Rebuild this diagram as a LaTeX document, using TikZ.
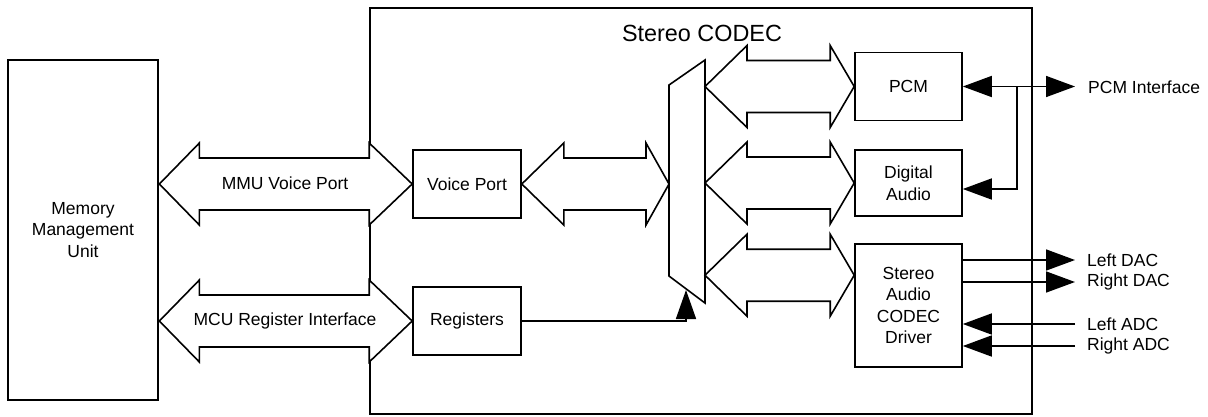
\documentclass[tikz,border=0pt]{standalone}
\usepackage{fontspec}
\setmainfont{Liberation Sans}
\usetikzlibrary{arrows.meta,calc}
\newcommand{\dblarrow}[4]{%
  \draw[barrow] (#1) -- ($(#1)+(#3,-41)$) -- ($(#1)+(#3,-26)$) -- ($(#2)+(-#4,-26)$) -- ($(#2)+(-#4,-41)$) -- (#2)
   -- ($(#2)+(-#4,41)$) -- ($(#2)+(-#4,26)$) -- ($(#1)+(#3,26)$) -- ($(#1)+(#3,41)$) -- cycle;}
\tikzset{
  myt/.tip={Triangle[length=29pt,width=21pt]},
  box/.style={draw, line width=1.6pt, fill=white, align=center, inner sep=0pt, font=\fontsize{17.5}{21.5}\selectfont},
  barrow/.style={draw, line width=1.6pt, fill=white, line join=miter},
  conn/.style={line width=1.6pt},
  lbl/.style={inner sep=0pt, font=\fontsize{17.5}{21.5}\selectfont},
}
\begin{document}
\begin{tikzpicture}[x=1pt,y=-1pt]
\useasboundingbox (0,0) rectangle (1208,416);
% CODEC outline
\node[draw, line width=2.7pt, minimum width=662pt, minimum height=406pt, inner sep=0pt] (codec) at (701,211) {};
\node[lbl, font=\fontsize{23.4}{28}\selectfont] (title) at (702,33) {Stereo CODEC};
% main boxes
\node[box, line width=2.7pt, minimum width=150pt, minimum height=340pt] (mmu) at (83,230) {Memory\\Management\\Unit};
\node[box, minimum width=108pt, minimum height=68pt] (vp) at (467,184) {Voice Port};
\node[box, minimum width=108pt, minimum height=68pt] (reg) at (467,321) {Registers};
\node[box, minimum width=107pt, minimum height=68pt] (pcm) at (908.5,86.5) {PCM};
\node[box, minimum width=107pt, minimum height=66pt] (da) at (908.5,183) {Digital\\Audio};
\node[box, minimum width=107pt, minimum height=123pt] (drv) at (908.5,305.5) {Stereo\\Audio\\CODEC\\Driver};
% multiplexer
\coordinate (m1) at (669,85);
\coordinate (m2) at (705,60);
\coordinate (m3) at (705,303);
\coordinate (m4) at (669,276);
\draw[barrow] (m1) -- (m2) -- (m3) -- (m4) -- cycle;
% block arrows
\coordinate (a1L) at (mmu.east |- vp.west);
\coordinate (a2L) at (mmu.east |- reg.west);
\dblarrow{a1L}{vp.west}{40}{43}
\dblarrow{a2L}{reg.west}{40}{43}
\coordinate (a3R) at (m1 |- vp.east);
\dblarrow{vp.east}{a3R}{42}{23}
\coordinate (a4L) at (m2 |- pcm.west);
\dblarrow{a4L}{pcm.west}{42}{24}
\coordinate (a5L) at (m2 |- da.west);
\dblarrow{a5L}{da.west}{42}{24}
\coordinate (a6R) at ($(drv.north west)+(0,32)$);
\coordinate (a6L) at (m2 |- a6R);
\dblarrow{a6L}{a6R}{42}{24}
% arrow labels
\node[lbl] (mvp) at (285,183) {MMU Voice Port};
\node[lbl] (mri) at (285,321) {MCU Register Interface};
% registers to mux
\coordinate (mxin) at (686,290);
\draw[conn, -{Triangle[length=29pt,width=20pt]}] (reg.east) -| (mxin);
% PCM interface
\node[lbl, anchor=west] (pcmi) at (1088,87) {PCM Interface};
\coordinate (pcmif) at ($(pcmi.west |- pcm.east)+(-13,0)$);
\draw[conn, myt-myt] (pcm.east) -- (pcmif);
\coordinate (j) at (1017,86.5);
\draw[conn, -myt] (j) |- ($(da.east)+(0,6)$);
% DAC / ADC
\node[lbl, anchor=west] (ldac) at (1087,260) {Left DAC};
\node[lbl, anchor=west] (rdac) at (1087,282) {Right DAC};
\node[lbl, anchor=west] (ladc) at (1087,324) {Left ADC};
\node[lbl, anchor=west] (radc) at (1087,346) {Right ADC};
\draw[conn, -myt] (drv.east |- ldac.west) -- ($(ldac.west)+(-12,0)$);
\draw[conn, -myt] (drv.east |- rdac.west) -- ($(rdac.west)+(-12,0)$);
\draw[conn, -myt] ($(ladc.west)+(-12,0)$) -- (drv.east |- ladc.west);
\draw[conn, -myt] ($(radc.west)+(-12,0)$) -- (drv.east |- radc.west);
\end{tikzpicture}
\end{document}
